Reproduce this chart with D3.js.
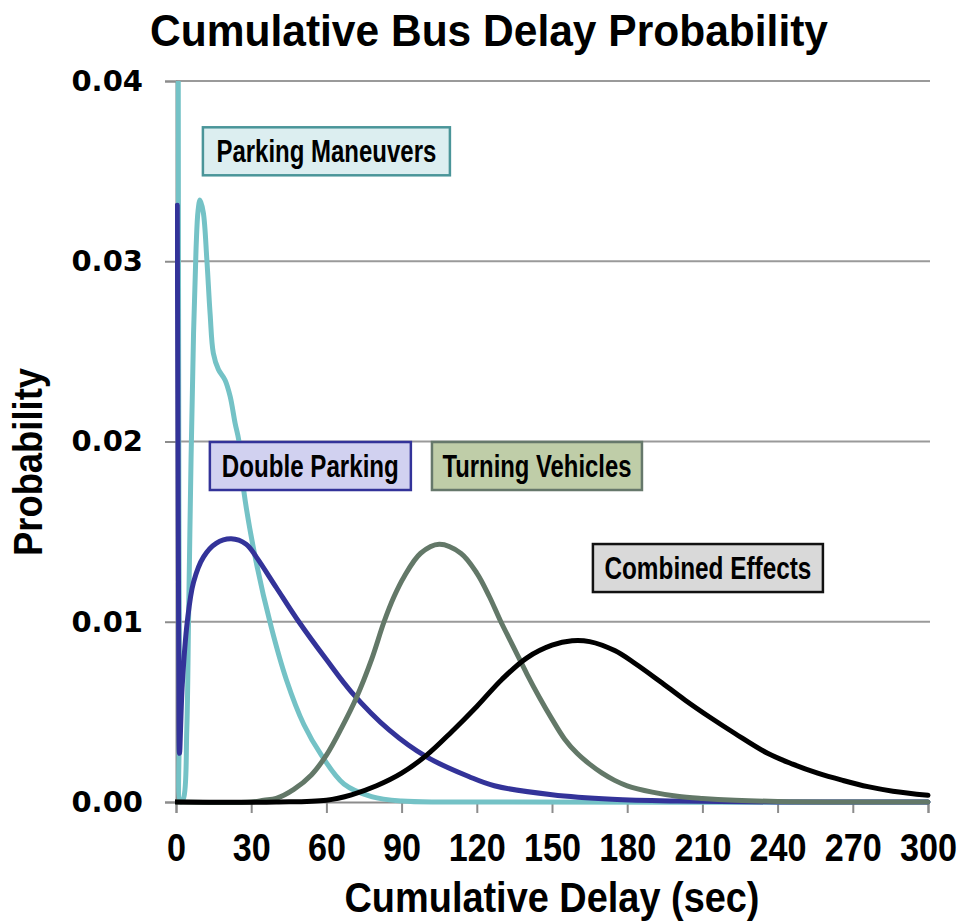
<!DOCTYPE html>
<html>
<head>
<meta charset="utf-8">
<script src="https://cdn.jsdelivr.net/npm/d3@7"></script>
<style>
  body { margin: 0; background: #fff; }
  svg { display: block; }
</style>
</head>
<body>
<div class="chart"></div>
<script>
// Data
const delayTicks = [0, 30, 60, 90, 120, 150, 180, 210, 240, 270, 300];
const probTicks = [0, 0.01, 0.02, 0.03, 0.04];

const parkingDelay = [0.8, 0.9, 1.1, 1.4, 1.8, 3, 4.3, 5, 6, 7, 8, 8.8, 9.6, 10.9, 12.3, 13.6, 14.9, 16.9, 19.6, 21.6, 23.6, 25, 27, 32, 38, 44, 51, 58, 67, 78, 90, 110, 300];
const parkingProb = [0.06, 0.04, 0.02, 0.005, 0.0, 0.0002, 0.004, 0.01, 0.019, 0.026, 0.0307, 0.0328, 0.0334, 0.0327, 0.0301, 0.0271, 0.0249, 0.024, 0.0234, 0.0225, 0.021, 0.0201, 0.0173, 0.0133, 0.0097, 0.0068, 0.0043, 0.0026, 0.001, 0.0003, 0.00005, 0, 0];

const doubleDelay = [0.5, 0.8, 1.1, 1.4, 2.5, 4.5, 7, 11, 16, 22, 28, 32, 40, 49, 60, 70, 85, 100, 117, 127, 150, 174, 200, 240, 300];
const doubleProb = [0.0331, 0.02, 0.008, 0.0027, 0.0065, 0.0100, 0.0122, 0.0136, 0.01435, 0.0146, 0.0143, 0.0136, 0.0119, 0.0100, 0.0079, 0.0061, 0.0040, 0.0025, 0.0014, 0.0009, 0.0004, 0.00015, 0.00005, 0, 0];

const turningDelay = [0, 30, 35, 40, 47, 54, 60, 66, 72, 78, 83, 87, 91, 97.6, 105, 113.6, 120, 125, 129.6, 135, 140, 145, 150, 155, 160, 165, 170, 175, 180, 190, 200, 210, 223, 240, 260, 300];
const turningProb = [0, 0, 0.0001, 0.0002, 0.0007, 0.0015, 0.0026, 0.0041, 0.0058, 0.0079, 0.0100, 0.0114, 0.0125, 0.0138, 0.0143, 0.0138, 0.0127, 0.0114, 0.0100, 0.0085, 0.0071, 0.0058, 0.0046, 0.0035, 0.0027, 0.0021, 0.0016, 0.0012, 0.0009, 0.00055, 0.00032, 0.0002, 0.0001, 0.00003, 0, 0];

const combinedDelay = [0, 40, 60, 70, 80, 90, 100, 110, 120, 130, 140, 150, 158, 165, 175, 183, 193, 203, 213, 223, 236, 246, 256, 266, 276, 286, 300];
const combinedProb = [0, 0, 0.0001, 0.0004, 0.0009, 0.0016, 0.0026, 0.0039, 0.0053, 0.0068, 0.0080, 0.0087, 0.00895, 0.0089, 0.0084, 0.0077, 0.0067, 0.00566, 0.0047, 0.0038, 0.0027, 0.0021, 0.0016, 0.0012, 0.00085, 0.0006, 0.00037];

const seriesNames = ['Parking Maneuvers', 'Double Parking', 'Turning Vehicles', 'Combined Effects'];
// label anchor (centre of box) in data units
const labelDelay = [60, 53.6, 144, 212.2];
const labelProb = [0.0361, 0.01864, 0.01864, 0.01298];

// Variables
const width = 963;
const height = 924;
const margin = {top: 81, right: 35, bottom: 122, left: 176};
const plotWidth = 928 - margin.left;
const plotHeight = 802 - margin.top;
const narrow = "'Liberation Sans Narrow', 'Arial Narrow', 'Liberation Sans', sans-serif";
const wide = "'DejaVu Sans', Verdana, sans-serif";

// Colors
const lineColors = ['#74C2C6', '#333399', '#637868', '#000000'];
const boxFills = ['#DCEEF0', '#D1D1F0', '#BFCDA8', '#D9D9D9'];
const boxStrokes = ['#4A9599', '#333399', '#66786B', '#111111'];
const gridColor = '#9a9a9a';
const axisColor = '#8c8c8c';

// Scales
const x = d3.scaleLinear().domain([0, 300]).range([0, plotWidth]);
const y = d3.scaleLinear().domain([0, 0.04]).range([plotHeight, 0]);

const svg = d3.select('.chart').append('svg')
  .attr('width', width)
  .attr('height', height);

const g = svg.append('g')
  .attr('transform', `translate(${margin.left},${margin.top})`);

// Gridlines
g.append('g')
  .attr('class', 'grid')
  .selectAll('line')
  .data(probTicks.filter(d => d > 0))
  .join('line')
  .attr('x1', 0)
  .attr('x2', plotWidth + 2)
  .attr('y1', d => y(d))
  .attr('y2', d => y(d))
  .attr('stroke', gridColor)
  .attr('stroke-width', 2);

// Axes
const yAxis = g.append('g')
  .call(d3.axisLeft(y).tickValues(probTicks).tickFormat(d3.format('.2f')).tickSize(11).tickPadding(22));
const xAxis = g.append('g')
  .attr('transform', `translate(0,${plotHeight})`)
  .call(d3.axisBottom(x).tickValues(delayTicks).tickSize(11).tickPadding(21));

[yAxis, xAxis].forEach(ax => {
  ax.select('.domain').attr('stroke', axisColor).attr('stroke-width', 2);
  ax.selectAll('.tick line').attr('stroke', axisColor).attr('stroke-width', 2);
});
yAxis.selectAll('.tick text')
  .attr('font-family', wide)
  .attr('font-weight', 'bold')
  .attr('font-size', 29)
  .attr('fill', '#000');
xAxis.selectAll('.tick text')
  .attr('font-family', narrow)
  .attr('font-weight', 'bold')
  .attr('font-size', 38)
  .attr('textLength', d => String(d).length * 19)
  .attr('lengthAdjust', 'spacingAndGlyphs')
  .attr('fill', '#000');

// Lines
svg.append('clipPath')
  .attr('id', 'plot-clip')
  .append('rect')
  .attr('x', -1)
  .attr('y', 0)
  .attr('width', plotWidth + 7)
  .attr('height', plotHeight + 4);

const series = [
  {delay: parkingDelay, prob: parkingProb},
  {delay: doubleDelay, prob: doubleProb},
  {delay: turningDelay, prob: turningProb},
  {delay: combinedDelay, prob: combinedProb}
].map((s, i) => ({
  name: seriesNames[i],
  color: lineColors[i],
  values: s.delay.map((t, j) => ({t: t, p: s.prob[j]}))
}));

const line = d3.line()
  .x(d => x(d.t))
  .y(d => y(d.p))
  .curve(d3.curveCatmullRom.alpha(0.5));

g.append('g')
  .attr('clip-path', 'url(#plot-clip)')
  .selectAll('path')
  .data(series)
  .join('path')
  .attr('d', d => line(d.values))
  .attr('fill', 'none')
  .attr('stroke', d => d.color)
  .attr('stroke-width', 5)
  .attr('stroke-linejoin', 'round')
  .attr('stroke-linecap', 'round');

// Labels
const labelSizes = [[247, 48, 220], [201, 48, 177], [210, 48, 189], [230, 48, 207]];
const labels = g.append('g').attr('class', 'labels');
seriesNames.forEach((name, i) => {
  const cx = x(labelDelay[i]);
  const cy = y(labelProb[i]);
  const [bw, bh, tw] = labelSizes[i];
  labels.append('rect')
    .attr('x', cx - bw / 2)
    .attr('y', cy - bh / 2)
    .attr('width', bw)
    .attr('height', bh)
    .attr('fill', boxFills[i])
    .attr('stroke', boxStrokes[i])
    .attr('stroke-width', 2.5);
  labels.append('text')
    .attr('x', cx)
    .attr('y', cy + 11)
    .attr('text-anchor', 'middle')
    .attr('font-family', narrow)
    .attr('font-weight', 'bold')
    .attr('font-size', 31)
    .attr('textLength', tw)
    .attr('lengthAdjust', 'spacingAndGlyphs')
    .text(name);
});

// Titles
svg.append('text')
  .attr('x', 489)
  .attr('y', 46)
  .attr('text-anchor', 'middle')
  .attr('font-family', narrow)
  .attr('font-weight', 'bold')
  .attr('font-size', 45)
  .attr('textLength', 678)
  .attr('lengthAdjust', 'spacingAndGlyphs')
  .text('Cumulative Bus Delay Probability');

svg.append('text')
  .attr('x', margin.left + plotWidth / 2)
  .attr('y', 912)
  .attr('text-anchor', 'middle')
  .attr('font-family', narrow)
  .attr('font-weight', 'bold')
  .attr('font-size', 42)
  .attr('textLength', 415)
  .attr('lengthAdjust', 'spacingAndGlyphs')
  .text('Cumulative Delay (sec)');

svg.append('text')
  .attr('transform', 'translate(42,462) rotate(-90)')
  .attr('text-anchor', 'middle')
  .attr('font-family', narrow)
  .attr('font-weight', 'bold')
  .attr('font-size', 40)
  .attr('textLength', 188)
  .attr('lengthAdjust', 'spacingAndGlyphs')
  .text('Probability');
</script>
</body>
</html>
